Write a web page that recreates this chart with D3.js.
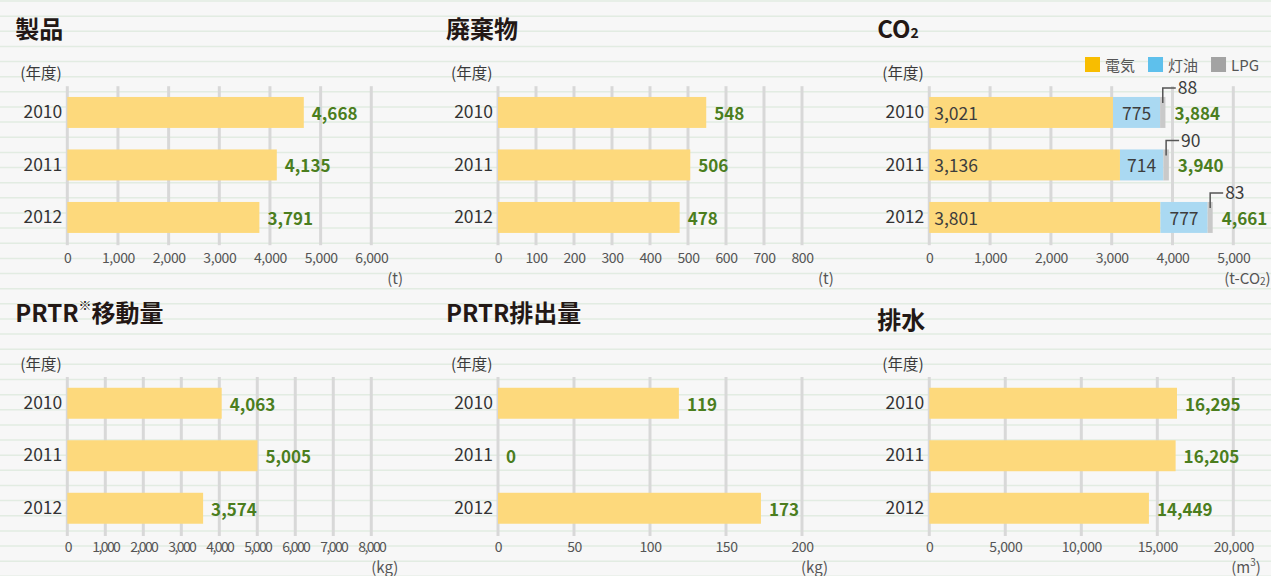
<!DOCTYPE html>
<html>
<head>
<meta charset="utf-8">
<script src="https://cdn.jsdelivr.net/npm/d3@7"></script>
<style>
  body { margin: 0; background: #f7f7f7; }
  svg { display: block; font-family: "Noto Sans CJK JP", "Noto Sans", sans-serif; }
</style>
</head>
<body>
<div id="chart"></div>
<script>
// data
const years = ["2010", "2011", "2012"];

const productValues = [4668, 4135, 3791];
const productTicks = [0, 1000, 2000, 3000, 4000, 5000, 6000];

const wasteValues = [548, 506, 478];
const wasteTicks = [0, 100, 200, 300, 400, 500, 600, 700, 800];

const co2Keys = ["電気", "灯油", "LPG"];
const co2Electric = [3021, 3136, 3801];
const co2Kerosene = [775, 714, 777];
const co2Lpg = [88, 90, 83];
const co2Ticks = [0, 1000, 2000, 3000, 4000, 5000];

const transferValues = [4063, 5005, 3574];
const transferTicks = [0, 1000, 2000, 3000, 4000, 5000, 6000, 7000, 8000];

const emissionValues = [119, 0, 173];
const emissionTicks = [0, 50, 100, 150, 200];

const drainValues = [16295, 16205, 14449];
const drainTicks = [0, 5000, 10000, 15000, 20000];

const width = 1271, height = 576;
const fmt = d3.format(",");
const barColor = "#fdd97c";
const valueColor = "#4b7e1e";
const gridColor = "#d8d8d8";

const svg = d3.select("#chart")
  .append("svg")
  .attr("width", width)
  .attr("height", height);

// paper background with faint ruled lines
svg.append("rect").attr("width", width).attr("height", height).attr("fill", "#f7f7f7");
svg.append("g").selectAll("line")
  .data(d3.range(0, 39))
  .enter().append("line")
  .attr("x1", 0).attr("x2", width)
  .attr("y1", i => 1 + i * 15.14).attr("y2", i => 1 + i * 15.14)
  .attr("stroke", "#e2ece2").attr("stroke-width", 1.5);

// one panel frame: title, (年度), grid, axes, unit; returns scales
function drawFrame(p) {
  const g = svg.append("g");

  const x = d3.scaleLinear()
    .domain([0, p.ticks[p.ticks.length - 1]])
    .range([p.x0, p.x0 + 304]);

  const y = d3.scaleBand()
    .domain(years)
    .range([p.top, p.top + 157.5])
    .paddingInner(0.41)
    .paddingOuter(0.205);

  // title (parts allow sub/superscripts)
  const title = g.append("text")
    .attr("x", p.x0 - 52)
    .attr("y", p.titleY)
    .attr("dominant-baseline", "central")
    .attr("font-size", 24)
    .attr("font-weight", 700)
    .attr("fill", "#231815");
  p.title.forEach(part => {
    const ts = title.append("tspan").text(part.t);
    if (part.sub) ts.attr("font-size", 14).attr("dy", 5);
    if (part.sup) ts.attr("font-size", 13).attr("dy", -7).attr("font-weight", 400);
    if (part.after) ts.attr("dy", part.after);
  });

  g.append("text")
    .attr("x", p.x0 - 47)
    .attr("y", p.top - 14)
    .attr("dominant-baseline", "central")
    .attr("font-size", 15.5)
    .attr("fill", "#3a3a3a")
    .text("(年度)");

  // vertical grid lines
  g.selectAll("line.grid")
    .data(p.ticks)
    .enter().append("line")
    .attr("class", "grid")
    .attr("x1", d => x(d)).attr("x2", d => x(d))
    .attr("y1", p.top).attr("y2", p.top + 159)
    .attr("stroke", gridColor)
    .attr("stroke-width", 3);

  // x tick labels
  const xAxis = g.append("g")
    .attr("transform", `translate(0,${p.top + p.tickY})`)
    .call(d3.axisBottom(x).tickValues(p.ticks).tickSize(0).tickPadding(0).tickFormat(fmt));
  xAxis.select(".domain").remove();
  xAxis.selectAll("text")
    .attr("dy", "0.35em")
    .attr("font-size", 14)
    .attr("letter-spacing", p.tickSpacing || -0.4)
    .attr("fill", "#555")
    .attr("font-family", "\"Noto Sans CJK JP\", sans-serif");

  // year labels
  const yAxis = g.append("g")
    .attr("transform", `translate(${p.x0},0)`)
    .call(d3.axisLeft(y).tickSize(0).tickPadding(5));
  yAxis.select(".domain").remove();
  yAxis.selectAll("text")
    .attr("font-size", 17.5)
    .attr("fill", "#333")
    .attr("font-family", "\"Noto Sans CJK JP\", sans-serif");

  // unit
  const unit = g.append("text")
    .attr("x", x.range()[1] + p.unitDx)
    .attr("y", p.top + p.unitY)
    .attr("dominant-baseline", "central")
    .attr("font-size", 15)
    .attr("fill", "#555");
  p.unit.forEach(part => {
    const ts = unit.append("tspan").text(part.t);
    if (part.sub) ts.attr("font-size", 10).attr("dy", 3);
    if (part.sup) ts.attr("font-size", 10).attr("dy", -5);
    if (part.after) ts.attr("dy", part.after);
  });

  return { g, x, y };
}

function drawSimple(p) {
  const { g, x, y } = drawFrame(p);
  const rows = years.map((yr, i) => ({ year: yr, value: p.values[i] }));

  g.selectAll("rect.bar")
    .data(rows)
    .enter().append("rect")
    .attr("class", "bar")
    .attr("x", x(0))
    .attr("y", d => y(d.year))
    .attr("width", d => x(d.value) - x(0))
    .attr("height", y.bandwidth())
    .attr("fill", barColor);

  g.selectAll("text.val")
    .data(rows)
    .enter().append("text")
    .attr("class", "val")
    .attr("x", d => x(d.value) + 8)
    .attr("y", d => y(d.year) + y.bandwidth() / 2)
    .attr("dominant-baseline", "central")
    .attr("font-size", 17)
    .attr("font-weight", 700)
    .attr("fill", valueColor)
    .text(d => fmt(d.value));
}

function drawCO2(p) {
  const { g, x, y } = drawFrame(p);
  const table = years.map((yr, i) => ({
    year: yr, "電気": co2Electric[i], "灯油": co2Kerosene[i], "LPG": co2Lpg[i]
  }));
  const series = d3.stack().keys(co2Keys)(table);
  const fills = { "電気": barColor, "灯油": "#aad9f2", "LPG": "#c9c9c9" };
  const legendFills = { "電気": "#f8bd00", "灯油": "#5ec0ec", "LPG": "#a3a3a3" };

  g.selectAll("g.layer")
    .data(series)
    .enter().append("g")
    .attr("class", "layer")
    .attr("fill", s => fills[s.key])
    .selectAll("rect")
    .data(s => s)
    .enter().append("rect")
    .attr("x", d => x(d[0]))
    .attr("y", d => y(d.data.year))
    .attr("width", d => x(d[1]) - x(d[0]))
    .attr("height", y.bandwidth());

  const mid = d => y(d.data.year) + y.bandwidth() / 2;

  // electricity: left aligned inside the bar
  g.selectAll("text.el")
    .data(series[0])
    .enter().append("text")
    .attr("x", x(0) + 5)
    .attr("y", mid)
    .attr("dominant-baseline", "central")
    .attr("font-size", 17.5)
    .attr("fill", "#3d3d3d")
    .text(d => fmt(d[1] - d[0]));

  // kerosene: centred in its segment
  g.selectAll("text.ke")
    .data(series[1])
    .enter().append("text")
    .attr("x", d => (x(d[0]) + x(d[1])) / 2)
    .attr("y", mid)
    .attr("text-anchor", "middle")
    .attr("dominant-baseline", "central")
    .attr("font-size", 17.5)
    .attr("fill", "#3d3d3d")
    .text(d => fmt(d[1] - d[0]));

  // LPG: callout above the thin segment
  const lpg = series[2];
  const cx = d => (x(d[0]) + x(d[1])) / 2;
  g.selectAll("path.call")
    .data(lpg)
    .enter().append("path")
    .attr("fill", "none")
    .attr("stroke", "#555")
    .attr("stroke-width", 1.5)
    .attr("d", d => {
      const top = y(d.data.year);
      return `M${cx(d)},${top + 6}V${top - 9}H${cx(d) + 13}`;
    });
  g.selectAll("text.lpg")
    .data(lpg)
    .enter().append("text")
    .attr("x", d => cx(d) + 15)
    .attr("y", d => y(d.data.year) - 10)
    .attr("dominant-baseline", "central")
    .attr("font-size", 17.5)
    .attr("fill", "#3d3d3d")
    .text(d => fmt(d[1] - d[0]));

  // totals
  g.selectAll("text.tot")
    .data(lpg)
    .enter().append("text")
    .attr("x", d => x(d[1]) + 9)
    .attr("y", mid)
    .attr("dominant-baseline", "central")
    .attr("font-size", 17)
    .attr("font-weight", 700)
    .attr("fill", valueColor)
    .text(d => fmt(d[1]));

  // legend
  const leg = g.append("g").attr("transform", "translate(1085,57)");
  let lx = 0;
  co2Keys.forEach(k => {
    const item = leg.append("g").attr("transform", `translate(${lx},0)`);
    item.append("rect").attr("width", 15).attr("height", 15).attr("fill", legendFills[k]);
    const t = item.append("text")
      .attr("x", 20).attr("y", 7.5)
      .attr("dominant-baseline", "central")
      .attr("font-size", 15)
      .attr("fill", "#555")
      .text(k);
    lx += 20 + t.node().getComputedTextLength() + 13;
  });
}

const row1 = { top: 86.2, titleY: 27, tickY: 172, unitY: 191 };
const row2 = { top: 377, titleY: 311, tickY: 170, unitY: 189 };

drawSimple({ ...row1, x0: 67.3, title: [{ t: "製品" }], values: productValues, ticks: productTicks,
  unit: [{ t: "(t)" }], unitDx: 16 });
drawSimple({ ...row1, x0: 498, title: [{ t: "廃棄物" }], values: wasteValues, ticks: wasteTicks,
  unit: [{ t: "(t)" }], unitDx: 16 });
drawCO2({ ...row1, x0: 929.3, title: [{ t: "CO" }, { t: "2", sub: true }], ticks: co2Ticks,
  unit: [{ t: "(t-CO" }, { t: "2", sub: true }, { t: ")", after: -3 }], unitDx: -9 });

drawSimple({ ...row2, x0: 67.3, title: [{ t: "PRTR" }, { t: "※", sup: true }, { t: "移動量", after: 7 }],
  values: transferValues, ticks: transferTicks, unit: [{ t: "(kg)" }], unitDx: 0, tickSpacing: -1.6 });
drawSimple({ ...row2, x0: 498, title: [{ t: "PRTR排出量" }], values: emissionValues, ticks: emissionTicks,
  unit: [{ t: "(kg)" }], unitDx: -1 });
drawSimple({ ...row2, titleY: 318, x0: 929.3, title: [{ t: "排水" }], values: drainValues, ticks: drainTicks,
  unit: [{ t: "(m" }, { t: "3", sup: true }, { t: ")", after: 5 }], unitDx: -2 });
</script>
</body>
</html>
